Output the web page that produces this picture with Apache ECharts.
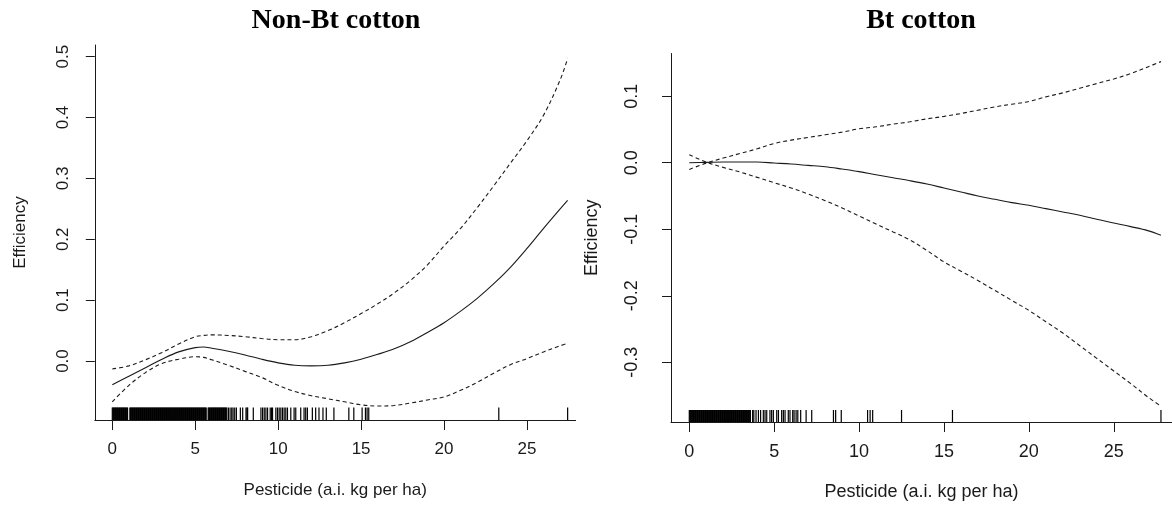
<!DOCTYPE html>
<html><head><meta charset="utf-8">
<script src="https://cdn.jsdelivr.net/npm/echarts@6/dist/echarts.min.js"></script>
<style>html,body{margin:0;padding:0;background:#fff}#c{width:1172px;height:506px}</style>
</head><body><div id="c"></div>
<script>
// ---------- data ----------
const panelTitles = ['Non-Bt cotton', 'Bt cotton'];
const xTitle = 'Pesticide (a.i. kg per ha)';
const yTitle = 'Efficiency';
const xTicks = [0, 5, 10, 15, 20, 25];
const yTicksNonBt = [0, 0.1, 0.2, 0.3, 0.4, 0.5];
const yTicksBt = [-0.3, -0.2, -0.1, 0, 0.1];

const nonBtX     = [0, 1, 2, 3, 4, 5, 5.5, 6, 7, 8, 9, 10, 11, 12, 13, 14, 15, 16, 17, 18, 19, 20, 21, 22, 23, 24, 25, 26, 27, 27.45];
const nonBtFit   = [-0.039, -0.025, -0.011, 0.003, 0.015, 0.022, 0.023, 0.021, 0.016, 0.010, 0.003, -0.003, -0.007, -0.008, -0.007, -0.003, 0.003, 0.011, 0.020, 0.032, 0.047, 0.063, 0.082, 0.103, 0.127, 0.154, 0.185, 0.218, 0.250, 0.264];
const nonBtUpper = [-0.013, -0.008, 0.002, 0.014, 0.028, 0.040, 0.042, 0.043, 0.042, 0.040, 0.037, 0.035, 0.035, 0.040, 0.050, 0.063, 0.078, 0.094, 0.112, 0.133, 0.158, 0.189, 0.218, 0.252, 0.288, 0.325, 0.362, 0.404, 0.462, 0.497];
const nonBtLower = [-0.067, -0.040, -0.019, -0.004, 0.003, 0.007, 0.006, 0.002, -0.007, -0.017, -0.027, -0.040, -0.050, -0.057, -0.062, -0.067, -0.072, -0.074, -0.073, -0.069, -0.064, -0.059, -0.048, -0.035, -0.020, -0.006, 0.004, 0.015, 0.025, 0.029];
const nonBtRug = [
  0, 0.04, 0.08, 0.12, 0.16, 0.2, 0.24, 0.28, 0.32, 0.36, 0.4, 0.44, 0.48, 0.52, 0.56, 0.6, 0.64, 0.68, 0.72, 0.76, 0.8, 0.84, 0.88, 0.92,
  1.06, 1.1, 1.14, 1.18, 1.22, 1.26, 1.3, 1.34, 1.38, 1.42, 1.46, 1.5, 1.54, 1.58, 1.62, 1.66, 1.7, 1.74, 1.78, 1.82, 1.86, 1.9, 1.94, 1.98,
  2.02, 2.06, 2.1, 2.14, 2.18, 2.22, 2.26, 2.3, 2.34, 2.38, 2.42, 2.46, 2.5, 2.54, 2.58, 2.62, 2.66, 2.7, 2.74, 2.78, 2.82, 2.86, 2.9, 2.94, 2.98,
  3.02, 3.06, 3.1, 3.14, 3.18, 3.22, 3.26, 3.3, 3.34, 3.38, 3.42, 3.46, 3.5, 3.54, 3.58, 3.62, 3.66, 3.7, 3.74, 3.78, 3.82, 3.86, 3.9, 3.94, 3.98,
  4.02, 4.06, 4.1, 4.14, 4.18, 4.22, 4.26, 4.3, 4.34, 4.38, 4.42, 4.46, 4.5, 4.54, 4.58, 4.62, 4.66, 4.7, 4.74, 4.78, 4.82, 4.86, 4.9, 4.94, 4.98,
  5.02, 5.06, 5.1, 5.14, 5.18, 5.22, 5.26, 5.3, 5.34, 5.38, 5.42, 5.46, 5.5, 5.54, 5.58, 5.62, 5.66,
  5.78, 5.82, 5.86, 5.9, 5.94, 5.98, 6.02, 6.06, 6.1, 6.14, 6.18, 6.22, 6.26, 6.3, 6.34, 6.38, 6.42, 6.46, 6.5, 6.54, 6.58, 6.62, 6.66, 6.7, 6.74, 6.78, 6.82, 6.86, 6.9,
  7.0, 7.1, 7.2, 7.28, 7.38, 7.48, 7.72, 7.86, 8.06, 8.12, 8.16, 8.5, 8.96, 9.06, 9.16, 9.26, 9.36, 9.52, 9.6, 9.66, 9.86, 9.96, 10.06, 10.16, 10.26,
  10.36, 10.46, 10.56, 10.76, 10.96, 11.06, 11.36, 11.56, 11.66, 11.76, 12.06, 12.26, 12.46, 12.7, 12.9, 13.36, 14.26, 14.56, 15.06, 15.26, 15.36, 15.46,
  23.3, 27.45];

const btX     = [0, 1, 2, 3, 4, 5, 6, 7, 8, 9, 10, 11, 12, 13, 14, 15, 16, 17, 18, 19, 20, 21, 22, 23, 24, 25, 26, 27, 27.78];
const btFit   = [0, 0.0005, 0.001, 0.001, 0.001, -0.0005, -0.002, -0.004, -0.006, -0.0095, -0.0133, -0.018, -0.0225, -0.027, -0.032, -0.038, -0.044, -0.050, -0.055, -0.060, -0.064, -0.069, -0.074, -0.079, -0.085, -0.0905, -0.096, -0.102, -0.109];
const btUpper = [-0.010, -0.0005, 0.007, 0.014, 0.021, 0.029, 0.034, 0.038, 0.042, 0.046, 0.051, 0.054, 0.058, 0.0615, 0.066, 0.0697, 0.074, 0.079, 0.084, 0.088, 0.092, 0.099, 0.105, 0.112, 0.119, 0.126, 0.134, 0.144, 0.152];
const btLower = [0.012, 0.001, -0.007, -0.014, -0.022, -0.030, -0.038, -0.047, -0.057, -0.068, -0.080, -0.092, -0.104, -0.116, -0.132, -0.149, -0.163, -0.177, -0.192, -0.207, -0.222, -0.239, -0.256, -0.275, -0.294, -0.313, -0.332, -0.352, -0.366];
const btRug = [
  0, 0.04, 0.08, 0.12, 0.16, 0.2, 0.24, 0.28, 0.32, 0.36, 0.4, 0.44, 0.48, 0.52, 0.56, 0.6, 0.64, 0.68, 0.72, 0.76, 0.8, 0.84, 0.88, 0.92, 0.96,
  1.0, 1.04, 1.08, 1.12, 1.16, 1.2, 1.24, 1.28, 1.32, 1.36, 1.4, 1.44, 1.48, 1.52, 1.56, 1.6, 1.64, 1.68, 1.72, 1.76, 1.8, 1.84, 1.88, 1.92, 1.96,
  2.0, 2.04, 2.08, 2.12, 2.16, 2.2, 2.24, 2.28, 2.32, 2.36, 2.4, 2.44, 2.48, 2.52, 2.56, 2.6, 2.64, 2.68, 2.72, 2.76, 2.8, 2.84, 2.88, 2.92, 2.96,
  3.0, 3.04, 3.08, 3.12, 3.16, 3.2, 3.24, 3.28, 3.32, 3.36, 3.4, 3.44, 3.48, 3.52, 3.56, 3.6,
  3.73, 3.8, 3.93, 4.07, 4.2, 4.36, 4.46, 4.56, 4.75, 4.85, 4.95, 5.15, 5.25, 5.44, 5.54, 5.64, 5.83, 5.93, 6.09, 6.17, 6.29, 6.39, 6.56, 6.88, 7.21,
  8.49, 8.62, 8.95, 10.5, 10.65, 10.8, 12.5, 15.5, 27.78];

// ---------- chart ----------
const zip = (xs, ys) => xs.map((x, i) => [x, ys[i]]);
const ink = '#1a1a1a';
const sans = '"Liberation Sans", Arial, sans-serif';

function xAxisFor(gi, min, max, fs, gap) {
  return {
    type: 'value', gridIndex: gi, min: min, max: max,
    axisLine: { show: true, onZero: false, lineStyle: { color: ink, width: 1 } },
    axisTick: { show: true, length: 10, customValues: xTicks, lineStyle: { color: ink, width: 1 } },
    axisLabel: { customValues: xTicks, margin: 21, fontSize: fs, color: ink, fontFamily: sans },
    splitLine: { show: false },
    name: xTitle, nameLocation: 'middle', nameGap: gap,
    nameTextStyle: { fontSize: fs, color: ink, fontFamily: sans }
  };
}
function yAxisFor(gi, min, max, ticks, fs, margin, gap) {
  return {
    type: 'value', gridIndex: gi, min: min, max: max,
    axisLine: { show: true, onZero: false, lineStyle: { color: ink, width: 1 } },
    axisTick: { show: true, length: 9, customValues: ticks, lineStyle: { color: ink, width: 1 } },
    axisLabel: { customValues: ticks, rotate: 90, margin: margin, fontSize: fs, color: ink, fontFamily: sans,
      formatter: v => Number(v).toFixed(1) },
    splitLine: { show: false },
    name: yTitle, nameLocation: 'middle', nameRotate: 90, nameGap: gap,
    nameTextStyle: { fontSize: fs, color: ink, fontFamily: sans }
  };
}
function lineSeries(gi, xs, ys, dashed) {
  return {
    type: 'line', xAxisIndex: gi, yAxisIndex: gi, data: zip(xs, ys),
    showSymbol: false, smooth: 0.35, silent: true,
    lineStyle: { color: ink, width: 1.1, type: dashed ? [4, 3] : 'solid' }
  };
}
function rugSeries(gi, vals, len) {
  return {
    type: 'custom', xAxisIndex: gi, yAxisIndex: gi, silent: true, clip: false,
    progressive: 0,
    data: vals.map(v => [v, 0]),
    renderItem: (params, api) => {
      const cs = params.coordSys;
      const px = api.coord([api.value(0), 0])[0];
      const bottom = cs.y + cs.height;
      return { type: 'rect', shape: { x: px - 0.6, y: bottom - len, width: 1.2, height: len },
        style: { fill: '#000' } };
    }
  };
}

const chart = echarts.init(document.getElementById('c'), null, { renderer: 'canvas' });
chart.setOption({
  animation: false,
  backgroundColor: '#fff',
  graphic: [
    { type: 'text', x: 336, y: 21, style: { text: panelTitles[0], font: 'bold 28px "Liberation Serif", serif', fill: '#000', align: 'center', verticalAlign: 'middle' } },
    { type: 'text', x: 921, y: 21, style: { text: panelTitles[1], font: 'bold 28px "Liberation Serif", serif', fill: '#000', align: 'center', verticalAlign: 'middle' } }
  ],
  grid: [
    { left: 94.8, top: 45, width: 480.8, height: 375 },
    { left: 671, top: 53.5, width: 501, height: 370.7 }
  ],
  xAxis: [ xAxisFor(0, -1.055, 27.93, 17, 62), xAxisFor(1, -1.078, 28.43, 18, 61) ],
  yAxis: [ yAxisFor(0, -0.0969, 0.5192, yTicksNonBt, 17, 23, 66), yAxisFor(1, -0.3897, 0.1642, yTicksBt, 18, 30, 70) ],
  series: [
    lineSeries(0, nonBtX, nonBtFit, false),
    lineSeries(0, nonBtX, nonBtUpper, true),
    lineSeries(0, nonBtX, nonBtLower, true),
    rugSeries(0, nonBtRug, 12.5),
    lineSeries(1, btX, btFit, false),
    lineSeries(1, btX, btUpper, true),
    lineSeries(1, btX, btLower, true),
    rugSeries(1, btRug, 12)
  ]
});
</script>
</body></html>
